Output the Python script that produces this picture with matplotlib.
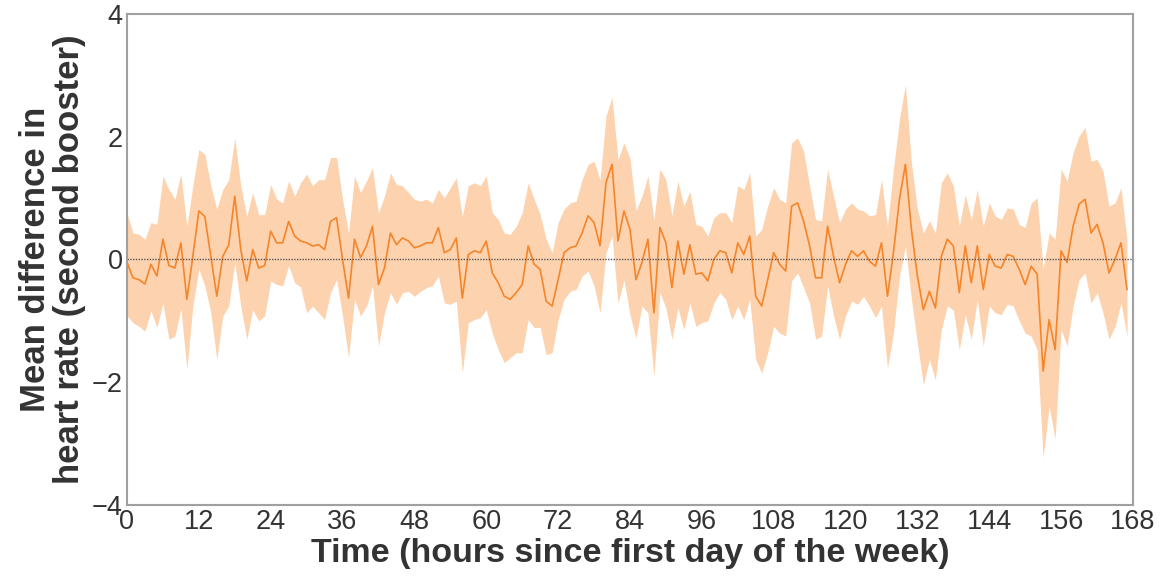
import numpy as np
import matplotlib
matplotlib.use('Agg')
import matplotlib.pyplot as plt

############################### Data ######################################
# hours 0..167, mean difference and band limits
mean_diff = [
    -0.05, -0.30, -0.33, -0.40, -0.08, -0.27, 0.33, -0.10, -0.14, 0.27,
    -0.65, 0.05, 0.79, 0.70, 0.05, -0.60, 0.05, 0.24, 1.03, 0.16,
    -0.35, 0.16, -0.14, -0.10, 0.46, 0.27, 0.27, 0.62, 0.38, 0.30,
    0.27, 0.22, 0.24, 0.16, 0.62, 0.68, 0.00, -0.63, 0.33, 0.03,
    0.22, 0.54, -0.41, -0.14, 0.43, 0.24, 0.35, 0.30, 0.19, 0.22,
    0.27, 0.27, 0.52, 0.11, 0.16, 0.35, -0.63, 0.08, 0.14, 0.11,
    0.30, -0.22, -0.38, -0.60, -0.65, -0.54, -0.41, 0.22, -0.08, -0.16,
    -0.68, -0.76, -0.33, 0.11, 0.19, 0.22, 0.43, 0.71, 0.60, 0.22,
    1.25, 1.55, 0.30, 0.79, 0.49, -0.33, -0.05, 0.33, -0.87, 0.52,
    0.27, -0.46, 0.30, -0.24, 0.24, -0.24, -0.22, -0.35, 0.00, 0.14,
    0.11, -0.22, 0.27, 0.08, 0.38, -0.60, -0.76, -0.33, 0.11, -0.08,
    -0.19, 0.87, 0.92, 0.62, 0.22, -0.30, -0.30, 0.54, 0.05, -0.38,
    -0.08, 0.14, 0.05, 0.14, -0.03, -0.11, 0.27, -0.60, 0.11, 0.98,
    1.55, 0.49, -0.27, -0.82, -0.52, -0.79, 0.05, 0.33, 0.22, -0.54,
    0.22, -0.38, 0.22, -0.49, 0.08, -0.11, -0.14, 0.08, 0.05, -0.16,
    -0.41, -0.11, -0.24, -1.82, -0.98, -1.47, 0.14, -0.05, 0.54, 0.90,
    0.98, 0.43, 0.57, 0.27, -0.22, 0.00, 0.27, -0.49,
]
upper = [
    0.76, 0.43, 0.41, 0.33, 0.60, 0.57, 1.36, 1.14, 0.98, 1.39,
    0.54, 1.20, 1.79, 1.71, 1.20, 0.82, 1.14, 1.30, 1.98, 1.20,
    0.70, 1.09, 0.73, 0.73, 1.22, 0.98, 0.92, 1.28, 1.03, 1.25,
    1.39, 1.20, 1.30, 1.30, 1.66, 1.66, 0.98, 0.43, 1.36, 1.09,
    1.28, 1.49, 0.76, 1.03, 1.41, 1.22, 1.20, 1.09, 0.98, 0.95,
    0.98, 0.92, 1.14, 1.00, 1.17, 1.33, 0.70, 1.20, 1.25, 1.20,
    1.36, 0.76, 0.65, 0.43, 0.41, 0.54, 0.76, 1.25, 0.98, 0.73,
    0.33, 0.11, 0.60, 0.82, 0.92, 0.95, 1.30, 1.55, 1.60, 1.30,
    2.34, 2.64, 1.63, 1.90, 1.65, 0.80, 1.03, 1.36, 0.65, 1.47,
    1.30, 0.71, 1.28, 0.87, 1.11, 0.57, 0.54, 0.38, 0.68, 0.76,
    0.76, 0.60, 1.20, 1.14, 1.41, 0.38, 0.49, 0.87, 1.17, 0.98,
    0.92, 1.90, 1.98, 1.76, 1.20, 0.65, 0.63, 1.47, 1.03, 0.60,
    0.82, 0.92, 0.82, 0.79, 0.71, 0.73, 1.30, 0.54, 1.47, 2.28,
    2.85, 1.58, 0.82, 0.43, 0.63, 0.43, 1.25, 1.41, 1.20, 0.54,
    1.05, 0.65, 1.14, 0.54, 0.92, 0.71, 0.65, 0.84, 0.82, 0.57,
    0.52, 0.92, 1.00, -0.16, 0.43, 0.33, 1.47, 1.28, 1.74, 2.01,
    2.15, 1.60, 1.63, 1.44, 0.87, 0.92, 1.17, 0.33,
]
lower = [
    -0.92, -1.03, -1.09, -1.17, -0.84, -1.11, -0.71, -1.30, -1.25, -0.80,
    -1.79, -0.76, -0.16, -0.43, -0.87, -1.63, -0.92, -0.76, -0.05, -0.76,
    -1.30, -0.82, -1.00, -0.92, -0.35, -0.41, -0.43, -0.10, -0.38, -0.45,
    -0.87, -0.76, -0.87, -0.98, -0.54, -0.33, -0.92, -1.60, -0.65, -0.92,
    -0.76, -0.43, -1.41, -0.87, -0.54, -0.73, -0.54, -0.52, -0.60, -0.52,
    -0.46, -0.43, -0.27, -0.71, -0.73, -0.68, -1.85, -1.03, -0.98, -0.95,
    -0.82, -1.20, -1.47, -1.68, -1.60, -1.52, -1.52, -0.98, -1.11, -1.11,
    -1.55, -1.52, -0.98, -0.65, -0.52, -0.49, -0.27, -0.19, -0.43, -0.87,
    0.11, 0.38, -0.71, -0.33, -0.90, -1.28, -0.76, -0.87, -1.90, -0.54,
    -0.79, -1.30, -0.79, -1.14, -0.71, -1.09, -1.03, -1.00, -0.71, -0.54,
    -0.65, -0.98, -0.76, -0.98, -0.65, -1.63, -1.85, -1.52, -1.09, -1.20,
    -1.25, -0.35, -0.22, -0.46, -0.71, -1.30, -1.25, -0.43, -0.92, -1.30,
    -0.92, -0.68, -0.73, -0.60, -0.76, -0.95, -0.76, -1.77, -1.20, -0.27,
    0.22, -0.65, -1.36, -2.04, -1.63, -1.96, -1.14, -0.76, -0.82, -1.47,
    -0.90, -1.30, -0.65, -1.41, -0.76, -0.87, -0.90, -0.73, -0.76, -1.00,
    -1.20, -1.25, -1.47, -3.23, -2.39, -2.93, -1.14, -1.41, -0.76, -0.33,
    -0.22, -0.71, -0.54, -0.87, -1.30, -1.09, -0.71, -1.25,
]
x_ticks = [0, 12, 24, 36, 48, 60, 72, 84, 96, 108, 120, 132, 144, 156, 168]
y_ticks = [-4, -2, 0, 2, 4]

############################### Plot ######################################
plt.rcParams['font.family'] = ['Liberation Sans', 'DejaVu Sans']
TEXT = '#333333'
ORANGE = '#f5852a'

hours = np.arange(len(mean_diff))

fig = plt.figure(figsize=(11.65, 5.81), dpi=100)
ax = fig.add_axes([0.109, 0.131, 0.8635, 0.845])

ax.fill_between(hours, lower, upper, color='#fdcaa0', alpha=0.85, linewidth=0)
ax.plot(hours, mean_diff, color=ORANGE, linewidth=1.2)
ax.axhline(0, color='#555555', linestyle=(0, (1, 1)), linewidth=1.0)

ax.set_xlim(0, 168)
ax.set_ylim(-4, 4)
ax.set_xticks(x_ticks)
ax.set_yticks(y_ticks)
ax.set_yticklabels(['\u22124', '\u22122', '0', '2', '4'])
ax.tick_params(length=0, labelsize=19.5, colors=TEXT, pad=3)

for s in ax.spines.values():
    s.set_color('#a0a0a0')
    s.set_linewidth(1.5)

ax.set_xlabel('Time (hours since first day of the week)', fontsize=24.5,
              fontweight='bold', color=TEXT, labelpad=2)
ax.set_ylabel('Mean difference in\nheart rate (second booster)', fontsize=25,
              fontweight='bold', color=TEXT, labelpad=4, linespacing=1.05)

fig.savefig('out.png', dpi=100)
